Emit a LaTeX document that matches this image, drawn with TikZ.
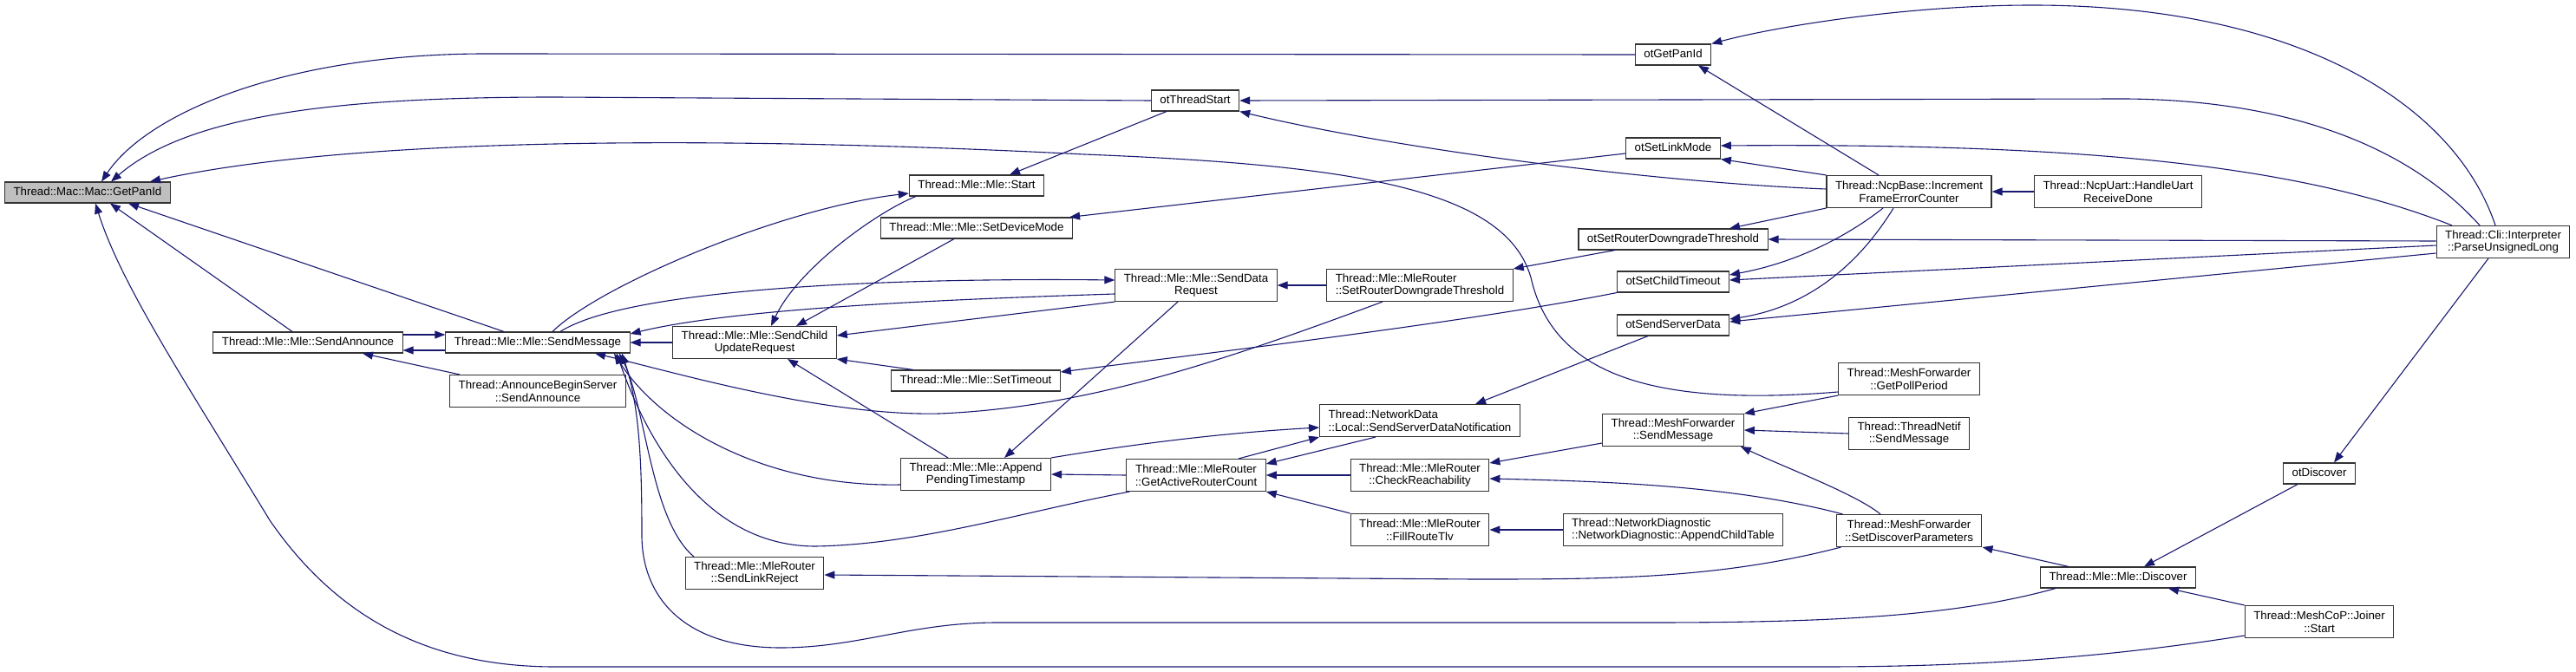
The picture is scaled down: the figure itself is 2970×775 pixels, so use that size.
\documentclass[tikz,border=0pt]{standalone}
\usepackage{fontspec}
\setmainfont{Liberation Sans}
\usepackage{tikz}
\usetikzlibrary{arrows.meta}

\definecolor{edgeblue}{HTML}{191970}
\definecolor{rootgray}{HTML}{BFBFBF}

\begin{document}
\begin{tikzpicture}[x=1pt,y=-1pt,
    func/.style={rectangle,draw=black!80,line width=1.1pt,fill=white,inner xsep=10pt,inner ysep=0pt,minimum height=24pt,font=\fontsize{13.3}{14.5}\selectfont},
    single/.style={func,text height=9.7pt,text depth=2.8pt},
    root/.style={single,fill=rootgray},
    twoline/.style={func,align=center,minimum height=37pt},
    leftline/.style={func,align=left,minimum height=37pt},
    edge/.style={-{Triangle[length=12pt,width=9pt]},line width=1.1pt,edgeblue}
]
\useasboundingbox (0,0) rectangle (2970,775);
\node[root] (panid) at (101,222) {Thread::Mac::Mac::GetPanId};
\foreach \n/\x/\y/\txt in {sendann/355/395/Thread::Mle::Mle::SendAnnounce,
    sendmsg/620/395/Thread::Mle::Mle::SendMessage,
    mlestart/1126/214/Thread::Mle::Mle::Start,
    setdev/1126/263/Thread::Mle::Mle::SetDeviceMode,
    settimeout/1125/439/Thread::Mle::Mle::SetTimeout,
    threadstart/1378/116/otThreadStart,
    otpanid/1929/63/otGetPanId,
    otlink/1929/171/otSetLinkMode,
    otrdt/1929/276/otSetRouterDowngradeThreshold,
    otchild/1929/325/otSetChildTimeout,
    otserver/1929/375/otSendServerData,
    otdiscover/2674/546/otDiscover,
    mlediscover/2442/666/Thread::Mle::Mle::Discover}
    \node[single] (\n) at (\x,\y) {\txt};
\foreach \n/\x/\y/\txt in {annbegin/620/451/{Thread::AnnounceBeginServer\\::SendAnnounce},
    scur/870/395/{Thread::Mle::Mle::SendChild\\UpdateRequest},
    linkrej/870/661/{Thread::Mle::MleRouter\\::SendLinkReject},
    datareq/1379/329/{Thread::Mle::Mle::SendData\\Request},
    appendts/1125/547/{Thread::Mle::Mle::Append\\PendingTimestamp},
    actrouter/1379/548/{Thread::Mle::MleRouter\\::GetActiveRouterCount},
    checkreach/1637/548/{Thread::Mle::MleRouter\\::CheckReachability},
    fillroute/1637/611/{Thread::Mle::MleRouter\\::FillRouteTlv},
    meshsend/1929/496/{Thread::MeshForwarder\\::SendMessage},
    ncpbase/2201/221/{Thread::NcpBase::Increment\\FrameErrorCounter},
    pollperiod/2201/437/{Thread::MeshForwarder\\::GetPollPeriod},
    netifsend/2201/500/{Thread::ThreadNetif\\::SendMessage},
    discparams/2201/612/{Thread::MeshForwarder\\::SetDiscoverParameters},
    uartdone/2442/221/{Thread::NcpUart::HandleUart\\ReceiveDone},
    joiner/2674/717/{Thread::MeshCoP::Joiner\\::Start},
    parseul/2886/279/{Thread::Cli::Interpreter\\::ParseUnsignedLong}}
    \node[twoline] (\n) at (\x,\y) {\txt};
\foreach \n/\x/\y/\txt in {setrdt/1637/329/{Thread::Mle::MleRouter\\::SetRouterDowngradeThreshold},
    srvnotif/1637/485/{Thread::NetworkData\\::Local::SendServerDataNotification},
    childtable/1929/611/{Thread::NetworkDiagnostic\\::NetworkDiagnostic::AppendChildTable}}
    \node[leftline] (\n) at (\x,\y) {\txt};
% callers of GetPanId
\draw[edge] (otpanid.west) -- (560,62) .. controls (330,62) and (170,130) .. ([xshift=16]panid.north);
\draw[edge] (threadstart.west) -- (640,112) .. controls (400,112) and (220,130) .. ([xshift=27]panid.north);
\draw[edge] ([yshift=-15]pollperiod.west) .. controls (1900,470) and (1790,430) .. (1765,320) .. controls (1735,215) and (1550,190) .. (1250,178) .. controls (800,155) and (400,160) .. ([xshift=72]panid.north);
\draw[edge] ([xshift=-18]sendann.north) -- ([xshift=26]panid.south);
\draw[edge] ([xshift=-39]sendmsg.north) -- ([xshift=47]panid.south);
\draw[edge] ([yshift=-16]joiner.west) .. controls (2450,755) and (2300,769) .. (2100,769) -- (640,769) .. controls (480,769) and (380,700) .. (311,600) .. controls (220,450) and (140,330) .. ([xshift=9]panid.south);
% SendAnnounce and SendMessage
\draw[edge] ([yshift=9]sendann.east) -- ([yshift=9]sendmsg.west);
\draw[edge] ([yshift=-9]sendmsg.west) -- ([yshift=-9]sendann.east);
\draw[edge] ([xshift=-90]annbegin.north) -- ([xshift=63]sendann.south);
\draw[edge] (scur.west) -- (sendmsg.east);
\draw[edge] ([yshift=-10]datareq.west) .. controls (1100,345) and (850,355) .. ([yshift=10]sendmsg.east);
\draw[edge] ([xshift=26]sendmsg.north) .. controls (720,335) and (1000,320) .. ([yshift=6]datareq.west);
\draw[edge] ([xshift=17]sendmsg.north) .. controls (690,330) and (900,240) .. ([yshift=-9]mlestart.west);
\draw[edge] ([xshift=-43]setrdt.south) .. controls (1400,420) and (1250,470) .. (1083,477) .. controls (950,480) and (780,430) .. ([xshift=66]sendmsg.south);
\draw[edge] ([yshift=-12]appendts.west) .. controls (880,562) and (760,490) .. ([xshift=88]sendmsg.south);
\draw[edge] ([xshift=4]actrouter.south west) .. controls (1180,590) and (1060,628) .. (940,630) .. controls (820,630) and (750,520) .. ([xshift=91]sendmsg.south);
\draw[edge] ([xshift=-70]linkrej.north) .. controls (750,600) and (745,470) .. ([xshift=94]sendmsg.south);
\draw[edge] ([xshift=-72]mlediscover.south) .. controls (2250,712) and (2100,718) .. (1900,718) -- (1150,718) .. controls (1050,718) and (990,747) .. (900,747) .. controls (790,747) and (740,690) .. (740,617) .. controls (740,540) and (738,470) .. ([xshift=97]sendmsg.south);
% SendChildUpdateRequest
\draw[edge] ([xshift=8]mlestart.south west) .. controls (1010,245) and (920,310) .. ([xshift=19]scur.north);
\draw[edge] ([xshift=-26]setdev.south) -- ([xshift=48]scur.north);
\draw[edge] (datareq.south west) -- ([yshift=8]scur.east);
\draw[edge] ([xshift=-72]settimeout.north) -- (scur.south east);
\draw[edge] ([xshift=-32]appendts.north) -- ([xshift=38]scur.south);
\draw[edge] ([xshift=-33]threadstart.south) -- ([xshift=38]mlestart.north);
\draw[edge] ([yshift=-6]otlink.west) -- ([xshift=-4]setdev.north east);
\draw[edge] ([xshift=-21]datareq.south) -- ([xshift=33]appendts.north);
\draw[edge] (setrdt.west) -- (datareq.east);
\draw[edge] (otchild.south west) .. controls (1700,370) and (1450,400) .. ([yshift=10]settimeout.east);
% GetActiveRouterCount
\draw[edge] (actrouter.west) -- (appendts.east);
\draw[edge] (appendts.north east) .. controls (1350,505) and (1450,497) .. ([yshift=-8]srvnotif.west);
\draw[edge] ([xshift=49]actrouter.north) -- (srvnotif.south west);
\draw[edge] ([xshift=-51]srvnotif.south) -- ([yshift=13]actrouter.east);
\draw[edge] (checkreach.west) -- (actrouter.east);
\draw[edge] (fillroute.north west) -- (actrouter.south east);
\draw[edge] ([xshift=-29]otserver.south) -- ([xshift=64]srvnotif.north);
\draw[edge] ([xshift=-67]otrdt.south) -- (setrdt.north east);
\draw[edge] (childtable.west) -- (fillroute.east);
% NcpBase
\draw[edge] ([yshift=3]ncpbase.west) .. controls (1900,210) and (1600,170) .. (threadstart.south east);
\draw[edge] (ncpbase.north west) -- (otlink.south east);
\draw[edge] ([xshift=-35]ncpbase.north) -- ([xshift=29]otpanid.south);
\draw[edge] (ncpbase.south west) -- ([xshift=65]otrdt.north);
\draw[edge] ([xshift=-30]ncpbase.south) .. controls (2120,280) and (2060,305) .. ([yshift=8]otchild.east);
\draw[edge] ([xshift=-18]ncpbase.south) .. controls (2140,310) and (2080,355) .. ([yshift=7]otserver.east);
\draw[edge] (uartdone.west) -- (ncpbase.east);
% ParseUnsignedLong
\draw[edge] ([xshift=-9]parseul.north) .. controls (2830,120) and (2650,6) .. (2343,6) .. controls (2200,6) and (2050,30) .. (otpanid.north east);
\draw[edge] ([xshift=-27]parseul.north) .. controls (2760,150) and (2600,115) .. (2450,114) -- (threadstart.east);
\draw[edge] ([xshift=-59]parseul.north) .. controls (2650,190) and (2400,165) .. ([yshift=3]otlink.east);
\draw[edge] ([yshift=1]parseul.west) -- (otrdt.east);
\draw[edge] ([yshift=-4]parseul.west) -- ([yshift=2]otchild.east);
\draw[edge] ([yshift=-13]parseul.west) -- ([yshift=4]otserver.east);
\draw[edge] ([xshift=-17]parseul.south) -- ([xshift=17]otdiscover.north);
% Discover
\draw[edge] ([xshift=-25]otdiscover.south) -- ([xshift=30]mlediscover.north);
\draw[edge] (joiner.north west) -- ([xshift=58]mlediscover.south);
\draw[edge] ([xshift=-57]mlediscover.north) -- (discparams.south east);
\draw[edge] ([xshift=-33]discparams.north) .. controls (2140,570) and (2060,540) .. ([xshift=-4]meshsend.south east);
\draw[edge] ([xshift=8]discparams.north west) .. controls (2000,560) and (1850,555) .. ([yshift=-4]checkreach.east);
\draw[edge] ([xshift=6]discparams.south west) .. controls (1980,668) and (1850,668) .. (1700,668) -- ([yshift=-2]linkrej.east);
% MeshForwarder::SendMessage
\draw[edge] ([yshift=-15]meshsend.west) -- ([yshift=14]checkreach.east);
\draw[edge] (pollperiod.south west) -- (meshsend.north east);
\draw[edge] (netifsend.west) -- (meshsend.east);
\end{tikzpicture}
\end{document}
